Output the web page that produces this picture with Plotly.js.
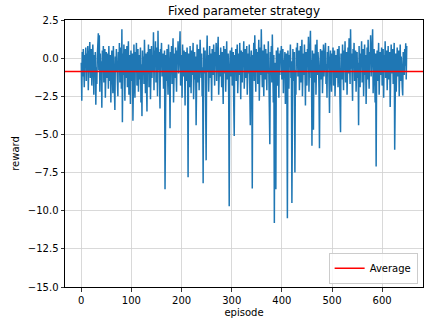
<!DOCTYPE html>
<html>
<head>
<meta charset="utf-8">
<script src="https://cdn.plot.ly/plotly-3.0.1.min.js"></script>
<style>html,body{margin:0;padding:0;background:#fff;}#chart{width:425px;height:324px;}</style>
</head>
<body>
<div id="chart"></div>
<script>
// Reward per episode (episodes 0..649)
const rewards = [
-0.3,-2.8,0.4,-1.2,0.6,-0.8,-1.9,0.2,-0.5,0.7,
-1.5,0.3,-0.9,0.8,-2.1,-0.4,0.5,1.05,-1.3,-0.2,
0.6,-1.8,-0.7,0.9,-0.3,-2.4,0.2,-1.1,0.4,-3.05,
-0.6,-1.7,0.1,1.2,1.63,-0.8,1.5,-2.2,0.3,-1.4,
-0.2,-3.25,0.5,-0.9,0.8,-1.6,-0.3,0.6,-2.6,-0.1,
0.4,-1.3,-0.5,0.3,-2.0,0.8,-0.7,-1.5,0.2,-2.9,
-0.4,0.5,-1.0,-2.3,0.8,-0.6,-1.8,-3.4,0.1,-0.9,
0.6,-1.2,-0.3,-2.5,0.4,-0.8,1.0,-1.6,-0.2,0.7,
-2.0,1.9,-4.2,0.3,-1.1,0.9,-0.5,-2.8,0.6,-1.3,
-0.1,0.8,-1.9,-0.6,1.1,-2.4,0.2,-0.9,-3.0,0.5,
-0.7,-1.5,0.3,-4.1,-0.2,0.9,-1.2,-2.6,0.4,-0.5,
1.0,-1.8,-0.3,0.6,-2.2,-0.8,0.2,-1.4,0.7,-2.9,
-0.4,-3.8,0.5,-1.0,0.1,-1.7,1.2,-0.6,-2.3,0.3,
-1.1,-3.5,0.4,-0.7,0.9,-1.9,-0.2,0.6,-2.7,-0.5,
0.8,-1.3,0.2,-0.9,1.7,-2.1,0.5,-0.4,1.1,-1.6,
-0.3,0.7,-2.5,1.8,-0.8,0.4,-1.4,-3.3,0.6,-0.2,
1.0,-1.2,-0.5,0.3,-2.0,-0.7,0.5,-8.6,-0.4,0.2,
-1.5,0.6,-0.9,-2.4,0.9,-0.3,-1.1,-4.6,0.4,-0.6,
0.8,-1.7,-0.2,1.3,-2.9,-0.5,0.3,-1.3,0.7,-0.8,
-2.2,0.5,-0.4,1.1,-1.0,-0.1,0.6,1.76,-1.8,-0.6,
0.2,-2.6,0.9,-0.3,-1.2,0.5,-0.8,-3.1,0.4,-1.5,
-0.2,0.7,-1.0,-7.8,0.3,-0.6,-1.9,0.8,-0.4,-2.3,
0.5,-1.1,-0.2,1.0,-2.7,-0.7,0.4,-1.4,0.1,-4.4,
-0.5,0.9,-1.6,-0.3,0.6,-2.1,-0.9,1.2,-0.1,-1.3,
0.3,-2.5,-0.6,-8.2,0.7,-1.0,-0.2,0.5,-1.7,-6.7,
-0.4,1.48,-0.9,0.2,-2.2,-0.5,0.8,-1.3,0.3,-0.7,
-2.8,0.6,-0.3,-1.1,0.9,-0.6,-1.8,0.4,-0.2,1.0,
-1.5,-0.4,0.5,1.4,-2.4,-0.8,0.2,-1.2,0.7,-0.3,
-1.9,0.4,-0.6,-3.0,0.8,-1.0,-0.1,0.6,-2.2,-0.5,
1.1,-1.4,-0.2,0.3,-2.6,-9.7,-0.7,0.5,-1.2,-0.3,
0.7,-1.8,-0.5,0.4,-2.9,-5.1,0.2,-0.9,0.6,-1.5,
-0.2,0.9,-2.3,-0.6,0.3,-1.1,1.0,-0.4,-2.7,0.5,
-0.8,-1.6,0.4,-0.3,1.1,-2.0,-0.7,0.6,-1.3,-0.1,
0.8,-2.4,-0.5,0.3,-1.0,0.9,-1.9,-4.4,-0.2,0.5,
-1.2,-8.55,0.2,-0.6,1.0,-1.5,1.5,-0.3,-2.2,0.6,
-0.9,0.4,-1.7,-0.2,1.2,-2.8,-0.5,0.7,-1.1,1.9,
-0.4,-1.9,0.5,-0.8,-2.5,0.9,-0.3,-1.4,0.6,-0.6,
-2.1,0.3,-1.0,1.1,-0.2,-3.2,-5.65,0.4,-0.7,0.8,
-1.6,1.55,-0.5,-2.9,0.2,-10.8,-1.2,-0.3,-8.6,0.5,
-0.8,-1.8,0.7,-0.4,-2.6,0.3,-1.1,0.5,-0.2,0.8,
-1.4,-0.6,0.6,-2.3,-0.1,-1.0,0.4,-3.0,-0.5,0.3,
-1.7,-10.5,0.5,-0.7,-2.0,0.2,-0.4,0.9,-1.3,-0.2,
-9.5,-0.9,0.6,-1.5,-0.3,0.4,-7.5,-0.8,-2.4,0.7,
-0.5,1.0,-1.2,-0.2,0.5,-2.1,-0.7,0.8,-1.6,-0.3,
1.2,-2.5,-0.4,0.3,-1.1,0.9,-0.6,-3.1,0.4,-0.9,
-1.8,0.6,-0.2,1.4,-2.2,-0.5,0.7,1.8,-1.3,-0.1,
-5.75,0.5,-0.8,-4.7,0.3,-1.6,-0.3,0.9,-2.4,-0.6,
1.2,-1.1,0.4,-0.2,-2.0,-5.9,-0.7,0.6,-1.4,-0.3,
0.5,-2.3,-0.8,0.9,-1.2,-0.1,0.6,1.0,-1.7,-0.4,
-2.6,0.4,-0.6,0.8,-1.5,-3.6,-0.2,0.5,-1.0,-2.2,
0.3,-0.7,0.7,-1.8,-0.3,0.5,-2.5,-0.9,0.2,-1.3,
-0.5,0.6,-1.9,-0.2,0.8,-1.1,-2.7,-4.85,0.3,-0.6,
-1.4,0.9,-0.3,-2.1,0.5,-0.8,1.1,-1.6,-0.1,0.4,
-2.4,-0.5,0.7,-1.0,1.3,-0.2,-1.7,1.9,-0.7,0.3,
-1.2,-2.8,0.6,-0.4,1.0,-1.5,-0.1,0.5,-2.2,-0.8,
0.4,-1.3,-0.3,-4.4,0.8,-0.9,-1.9,0.3,-0.5,1.1,
-1.6,-0.2,0.6,-2.5,-0.7,0.9,-1.1,0.2,-3.0,-0.4,
0.7,-1.4,1.2,-0.6,-2.0,0.4,-0.3,1.5,-1.2,-0.1,
0.8,1.9,-2.3,-0.5,0.6,-1.0,-2.9,0.3,-7.1,-0.8,
0.5,-1.5,-0.2,1.0,-2.4,-0.6,0.4,-1.1,-0.3,0.7,
-1.8,-0.4,0.6,-2.6,0.2,-0.9,1.1,-1.3,-0.2,0.5,
-2.1,-0.7,0.8,-1.4,-0.1,0.4,-3.2,-0.6,0.9,-1.0,
-0.3,0.6,-1.7,-0.5,1.0,-6.0,-0.8,0.3,-2.2,-0.4,
0.7,-1.2,-0.2,0.5,-2.5,-0.7,0.9,-1.5,0.1,-0.6,
-1.9,-2.45,0.4,-0.3,-1.1,0.6,-0.5,0.98,-1.4,0.8
];
const episodes = rewards.map((_, i) => i);
const averageReward = -0.88;
const xTicks = [0, 100, 200, 300, 400, 500, 600];
const yTicks = [-15, -12.5, -10, -7.5, -5, -2.5, 0, 2.5];

const n = episodes.length;
const pad = (n - 1) * 0.05;
const font = "DejaVu Sans, Liberation Sans, sans-serif";

const traces = [
  {x: episodes, y: rewards, type: 'scatter', mode: 'lines',
   line: {color: '#1f77b4', width: 1.5}, showlegend: false, hoverinfo: 'skip'},
  {x: [null], y: [null], type: 'scatter', mode: 'lines', name: 'Average',
   line: {color: 'red', width: 1.5}}
];

const axisCommon = {
  showline: true, linecolor: '#000', linewidth: 1, mirror: true,
  ticks: 'outside', ticklen: 3.5, tickwidth: 0.8, tickcolor: '#000',
  showgrid: true, gridcolor: '#d0d0d0', gridwidth: 0.8,
  zeroline: false, tickfont: {family: font, size: 10, color: '#000'}
};

const layout = {
  width: 425, height: 324,
  margin: {l: 65, r: 2, t: 20, b: 37},
  paper_bgcolor: '#fff', plot_bgcolor: '#fff',
  font: {family: font, size: 10, color: '#000'},
  title: {text: 'Fixed parameter strategy', font: {family: font, size: 12, color: '#000'},
          x: 0.5, xref: 'paper', xanchor: 'center', y: 1, yref: 'paper', yanchor: 'bottom', pad: {b: 5}},
  xaxis: Object.assign({}, axisCommon, {
    range: [-pad, n - 1 + pad], tickvals: xTicks, ticktext: xTicks.map(String),
    title: {text: 'episode', font: {family: font, size: 10, color: '#000'}, standoff: 4}
  }),
  yaxis: Object.assign({}, axisCommon, {
    range: [yTicks[0], yTicks[yTicks.length - 1]], tickvals: yTicks,
    tickformat: '.1f',
    title: {text: 'reward', font: {family: font, size: 10, color: '#000'}, standoff: 6}
  }),
  shapes: [{type: 'line', xref: 'paper', x0: 0, x1: 1, yref: 'y', y0: averageReward, y1: averageReward,
            line: {color: 'red', width: 1.5}}],
  legend: {x: 0.985, y: 0.012, xanchor: 'right', yanchor: 'bottom',
           bgcolor: 'rgba(255,255,255,0.8)', bordercolor: '#ccc', borderwidth: 1,
           font: {family: font, size: 10, color: '#000'}, itemwidth: 30, tracegroupgap: 0}
};

Plotly.newPlot('chart', traces, layout, {displayModeBar: false, staticPlot: true});
</script>
</body>
</html>
